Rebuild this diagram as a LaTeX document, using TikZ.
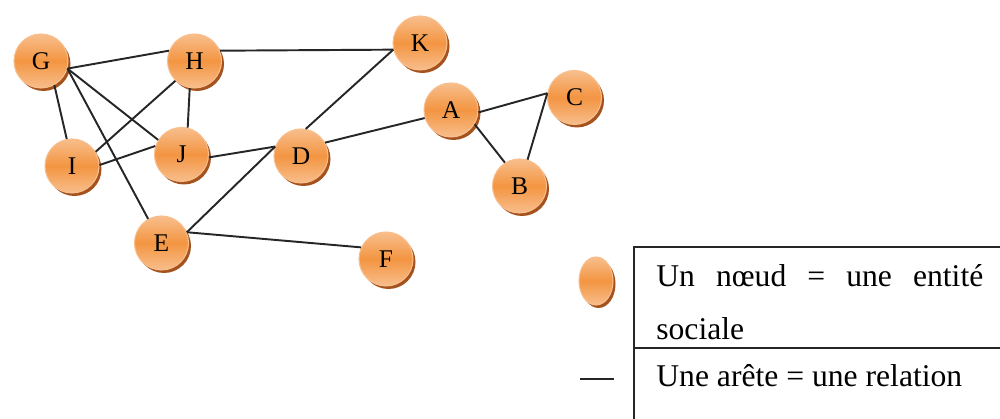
\documentclass[tikz,border=0pt]{standalone}
\usepackage{fontspec}
\setmainfont{Liberation Serif}
\usetikzlibrary{shadows,shapes.geometric}

\definecolor{ballorange}{HTML}{F39542}
\definecolor{balllight}{HTML}{F8BE8C}
\definecolor{ballshadow}{HTML}{A4521E}

\begin{document}
\begin{tikzpicture}[
    ball/.style={circle, minimum size=1.08cm, inner sep=0pt, draw=balllight, line width=0.6pt,
        top color=balllight, bottom color=balllight, middle color=ballorange,
        drop shadow={shadow xshift=0.05cm, shadow yshift=-0.06cm, fill=ballshadow, opacity=1},
        font=\fontsize{14.5}{14.5}\selectfont},
    edge/.style={line width=1.1pt, black!85},
    rule/.style={line width=0.8pt, black!85},
    legendtext/.style={anchor=base west, inner sep=0pt, font=\fontsize{18}{18}\selectfont}
]
    \useasboundingbox (0,0) rectangle (20,-8.38);

    % Nodes of the network
    \node[ball] (G) at (0.82,-1.22) {G};
    \node[ball] (H) at (3.89,-1.22) {H};
    \node[ball] (K) at (8.40,-0.86) {K};
    \node[ball] (A) at (9.02,-2.20) {A};
    \node[ball] (C) at (11.49,-1.95) {C};
    \node[ball] (B) at (10.39,-3.72) {B};
    \node[ball] (I) at (1.44,-3.32) {I};
    \node[ball] (J) at (3.63,-3.09) {J};
    \node[ball] (D) at (6.02,-3.12) {D};
    \node[ball] (E) at (3.23,-4.86) {E};
    \node[ball] (F) at (7.72,-5.18) {F};

    % Relations (ends where the lines meet the balls)
    \draw[edge] (G.-16) -- (H.158);
    \draw[edge] (G.-61) -- (I.101);
    \draw[edge] (G.-16) -- (J.148);
    \draw[edge] (G.-16) -- (E.119);
    \draw[edge] (H.-134) -- (I.31);
    \draw[edge] (H.-100) -- (J.77);
    \draw[edge] (H.22) -- (K.-166);
    \draw[edge] (I.2) -- (J.162);
    \draw[edge] (J.-6) -- (D.160);
    \draw[edge] (D.80) -- (K.-166);
    \draw[edge] (D.29) -- (A.-163);
    \draw[edge] (D.160) -- (E.23);
    \draw[edge] (E.23) -- (F.155);
    \draw[edge] (A.-5) -- (C.171);
    \draw[edge] (A.-31) -- (B.122);
    \draw[edge] (B.73) -- (C.171);

    % Legend
    \node[ball, ellipse, minimum width=0.68cm, minimum height=0.96cm] (keynode) at (11.92,-5.62) {};
    \coordinate (keyL) at (11.60,-7.58);
    \coordinate (keyR) at (12.28,-7.58);
    \draw[edge, line width=0.8pt] (keyL) -- (keyR);

    \coordinate (tabTL) at (12.68,-4.94);
    \coordinate (tabTR) at (20,-4.94);
    \coordinate (tabML) at (12.68,-6.96);
    \coordinate (tabMR) at (20,-6.96);
    \coordinate (tabBL) at (12.68,-8.38);
    \draw[rule] (tabTR) -- (tabTL) -- (tabBL);
    \draw[rule] (tabML) -- (tabMR);

    \node[legendtext] (keytext1) at (13.12,-5.74) {\makebox[6.54cm][s]{Un nœud = une entité}};
    \node[legendtext] (keytext1b) at (13.12,-6.80) {sociale};
    \node[legendtext] (keytext2) at (13.12,-7.74) {Une arête = une relation};
\end{tikzpicture}
\end{document}
